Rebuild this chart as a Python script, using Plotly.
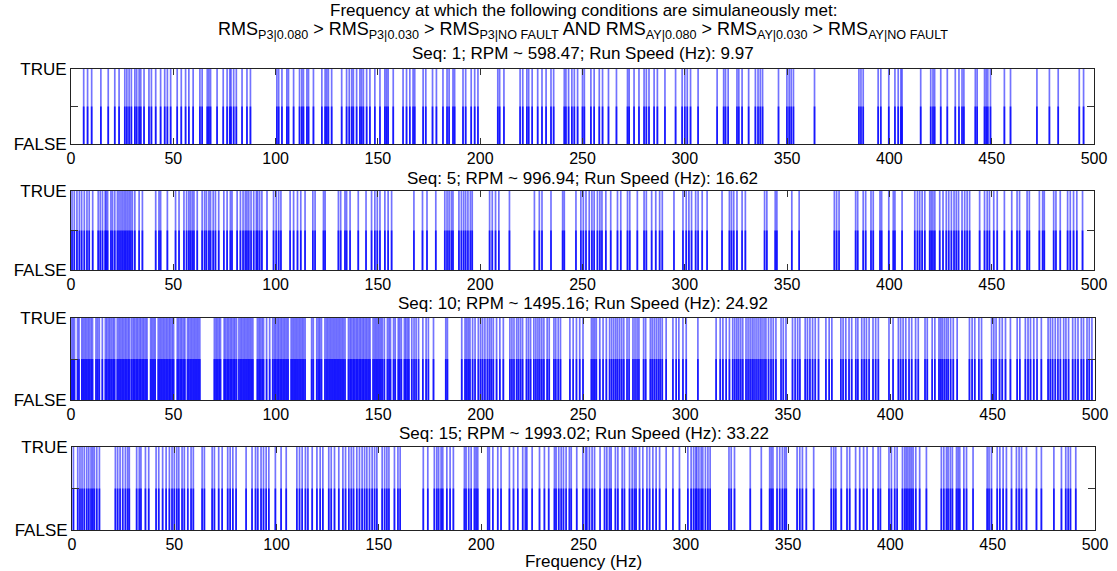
import plotly.graph_objects as go

# ---------------- data ----------------
freq_ticks = [0, 50, 100, 150, 200, 250, 300, 350, 400, 450, 500]
state_tickvals = [0, 1]
state_ticktext = ["FALSE", "TRUE"]
state_mid_tick = [0.5]

seq_titles = [
    "Seq: 1; RPM ~ 598.47; Run Speed (Hz): 9.97",
    "Seq: 5; RPM ~ 996.94; Run Speed (Hz): 16.62",
    "Seq: 10; RPM ~ 1495.16; Run Speed (Hz): 24.92",
    "Seq: 15; RPM ~ 1993.02; Run Speed (Hz): 33.22",
]

# frequencies (Hz) where the condition is TRUE
seq1_true = [6.2, 8.1, 10.1, 14.6, 18.2, 21.4, 23.5, 26.3, 27.3, 28.4, 29.5, 31.2, 32.1, 33.3, 34.1, 35.7,
             38.1, 39.3, 41.4, 43.8, 45.8, 47.1, 48.7, 51.9, 53.9, 56.0, 57.6, 59.7, 63.0, 64.1, 66.6, 67.4,
             68.2, 71.4, 74.4, 76.3, 77.6, 78.2, 79.5, 80.8, 83.6, 86.0, 87.7, 100.6, 101.5, 103.1, 105.5,
             106.3, 108.8, 111.7, 112.8, 113.6, 115.3, 116.1, 118.5, 122.6, 124.2, 125.0, 125.8, 127.4,
             132.3, 134.7, 136.0, 137.2, 138.0, 139.6, 141.2, 142.0, 142.9, 144.5, 146.1, 148.5, 151.0,
             153.4, 154.2, 155.0, 157.5, 162.3, 164.0, 165.6, 167.2, 168.0, 172.1, 173.4, 176.7, 178.6,
             181.8, 183.8, 184.8, 186.7, 187.5, 191.6, 192.9, 195.6, 197.3, 198.9, 208.6, 209.5, 211.6,
             219.5, 220.8, 222.8, 223.7, 225.4, 228.1, 230.2, 232.2, 234.6, 235.9, 241.1, 241.9, 243.2,
             244.8, 246.0, 247.6, 250.0, 250.9, 254.1, 255.7, 258.2, 259.8, 262.7, 266.6, 272.0, 272.8,
             275.2, 277.6, 280.1, 281.2, 282.5, 285.0, 286.6, 290.3, 295.5, 298.7, 300.0, 301.2, 302.8,
             306.5, 315.8, 319.0, 319.9, 321.2, 325.5, 326.4, 328.0, 331.2, 334.5, 335.8, 336.9, 338.0,
             345.8, 349.9, 351.0, 352.0, 353.1, 363.4, 385.1, 386.1, 387.2, 394.5, 395.8, 399.7, 402.7,
             404.3, 405.6, 406.2, 415.3, 420.2, 421.3, 422.1, 425.1, 428.3, 432.2, 434.0, 435.5, 436.4,
             442.0, 442.9, 446.5, 447.3, 448.1, 449.4, 456.2, 459.2, 472.1, 478.2, 482.5, 492.8, 494.9]

seq5_true = [0.5, 1.6, 2.9, 4.1, 5.2, 6.5, 7.8, 8.9, 10.6, 13.3, 14.3, 15.4, 16.7, 17.2, 17.9, 19.5, 20.3,
             21.4, 22.7, 23.5, 24.4, 25.2, 26.0, 26.8, 27.6, 28.4, 29.2, 30.0, 31.2, 33.3, 34.9, 41.4, 43.0,
             43.8, 47.1, 51.1, 52.8, 55.2, 56.5, 57.6, 58.4, 59.3, 60.1, 61.7, 64.1, 65.3, 66.2, 67.4, 68.2,
             69.5, 70.6, 72.2, 74.7, 76.3, 77.9, 78.7, 81.2, 82.8, 84.1, 85.2, 86.0, 86.9, 88.0, 89.3, 90.6,
             91.2, 92.2, 93.3, 95.8, 99.0, 100.3, 101.5, 102.6, 107.1, 108.8, 110.7, 112.3, 114.4, 118.2,
             119.3, 123.4, 124.2, 130.7, 131.8, 133.9, 134.7, 136.4, 140.4, 144.2, 146.9, 148.5, 149.7,
             151.0, 153.4, 155.0, 156.7, 167.6, 171.8, 174.0, 178.3, 182.7, 183.8, 184.8, 185.9, 186.7,
             189.6, 190.8, 191.9, 192.9, 194.0, 195.2, 196.1, 204.6, 205.9, 207.5, 209.1, 214.3, 226.5,
             228.9, 230.2, 234.6, 240.3, 241.1, 246.8, 249.2, 250.4, 251.7, 253.3, 254.6, 255.7, 257.3,
             258.5, 259.5, 261.4, 263.8, 267.1, 268.7, 272.0, 273.1, 276.8, 280.1, 281.2, 283.8, 285.8,
             287.7, 289.0, 294.7, 299.1, 300.7, 302.0, 303.3, 305.3, 306.5, 308.5, 310.9, 318.2, 321.8,
             322.8, 323.9, 325.5, 328.0, 329.6, 339.0, 340.1, 344.2, 345.0, 352.3, 355.9, 373.1, 374.2,
             375.4, 383.5, 384.5, 387.2, 388.4, 391.0, 392.1, 395.4, 396.2, 399.7, 401.9, 402.7, 406.2,
             412.4, 413.7, 414.8, 416.0, 417.3, 419.7, 420.5, 421.3, 422.2, 424.6, 426.2, 427.8, 429.0,
             430.3, 431.6, 432.7, 433.8, 435.5, 436.8, 438.0, 439.2, 444.1, 446.5, 447.8, 448.9, 451.0,
             452.7, 456.2, 459.8, 462.4, 463.6, 467.3, 468.4, 473.3, 474.9, 475.7, 480.3, 481.4, 483.5,
             487.1, 488.4, 490.0, 491.6, 494.4]

seq10_true = [0.3, 1.0, 1.7, 3.2, 3.9, 5.3, 6.0, 6.8, 7.5, 8.3, 9.0, 9.8, 10.5, 12.2, 13.0, 13.8, 15.3,
              16.8, 17.5, 18.3, 19.0, 19.8, 20.6, 21.3, 22.6, 23.4, 24.1, 24.9, 25.6, 26.4, 27.1, 27.9,
              28.6, 29.6, 30.4, 31.1, 31.9, 32.6, 33.4, 34.1, 34.9, 35.6, 36.4, 37.1, 38.9, 39.6, 40.4,
              41.1, 42.6, 43.4, 44.1, 44.9, 45.6, 46.4, 47.1, 47.9, 48.6, 49.4, 50.1, 51.9, 52.6, 53.4,
              54.1, 54.9, 55.6, 56.9, 57.6, 58.4, 59.1, 59.9, 60.6, 61.4, 62.1, 62.9, 70.0, 70.8, 71.5,
              72.3, 73.0, 74.8, 75.5, 76.3, 77.0, 77.8, 78.5, 79.3, 80.0, 80.8, 82.0, 82.8, 83.5, 84.3,
              85.0, 85.8, 86.5, 87.3, 88.0, 88.8, 91.0, 91.8, 92.5, 93.3, 94.0, 95.5, 97.0, 98.5, 99.3,
              100.0, 100.8, 101.5, 102.3, 103.0, 103.8, 104.5, 105.3, 106.0, 107.5, 108.3, 109.0, 109.8,
              110.5, 111.3, 112.0, 112.8, 113.5, 114.3, 117.5, 118.3, 120.0, 120.8, 121.5, 122.3, 124.0,
              124.8, 125.5, 126.3, 127.0, 127.8, 128.5, 129.3, 130.0, 130.8, 131.5, 132.3, 133.0, 133.8,
              135.5, 136.3, 137.0, 137.8, 138.5, 139.3, 140.0, 140.8, 141.5, 142.3, 143.0, 143.8, 144.5,
              145.3, 146.0, 147.5, 148.3, 149.0, 149.8, 150.5, 151.3, 152.0, 153.0, 154.5, 155.3, 156.0,
              157.5, 158.3, 159.8, 160.5, 161.3, 162.8, 163.5, 164.3, 165.0, 166.4, 167.5, 168.5, 169.7,
              171.8, 173.4, 174.5, 177.0, 183.0, 183.8, 190.8, 192.4, 193.2, 194.0, 194.8, 196.1, 197.3,
              198.9, 200.0, 201.0, 202.1, 203.3, 204.3, 205.2, 206.2, 207.8, 209.4, 211.1, 214.3, 215.3,
              216.3, 217.6, 218.5, 219.5, 220.5, 222.4, 223.4, 224.4, 226.0, 227.0, 228.0, 228.9, 229.9,
              230.9, 232.5, 233.5, 235.8, 236.7, 237.9, 239.0, 243.6, 245.2, 246.8, 248.4, 250.0, 254.1,
              254.9, 255.7, 256.5, 258.2, 259.8, 261.4, 263.0, 264.0, 265.0, 266.0, 266.9, 267.9, 268.9,
              269.9, 271.5, 272.5, 274.4, 275.4, 276.4, 277.3, 279.6, 280.6, 282.9, 283.8, 284.8, 285.8,
              286.8, 287.7, 288.7, 290.6, 293.9, 295.5, 296.8, 298.8, 300.4, 306.1, 315.0, 317.0, 318.3,
              319.9, 321.5, 323.1, 324.1, 325.1, 326.0, 327.0, 328.0, 329.6, 330.6, 331.6, 332.6, 333.5,
              334.5, 335.5, 336.5, 337.4, 338.4, 339.3, 340.6, 341.8, 342.9, 344.2, 346.7, 347.8, 349.1,
              352.3, 353.6, 354.8, 355.9, 358.5, 359.6, 360.8, 362.1, 363.4, 365.0, 368.6, 370.2, 371.5,
              375.9, 377.0, 378.3, 379.9, 381.2, 383.2, 384.2, 386.1, 387.3, 388.4, 389.7, 391.6, 392.9,
              394.2, 399.4, 401.4, 404.0, 405.1, 406.3, 407.6, 409.2, 410.5, 412.4, 413.7, 417.0, 418.1,
              420.5, 421.8, 423.8, 424.6, 425.4, 426.4, 427.4, 428.3, 429.5, 430.8, 432.7, 438.7, 440.0,
              441.3, 443.3, 444.6, 449.5, 450.6, 451.7, 453.4, 454.7, 456.3, 458.7, 462.0, 463.3, 466.0,
              467.3, 468.5, 470.1, 471.7, 473.8, 477.1, 478.2, 479.3, 480.6, 481.9, 483.1, 484.7, 485.8,
              487.1, 489.1, 490.4, 491.7, 493.3, 494.4, 496.1, 497.2, 498.5]

seq15_true = [0.7, 2.8, 3.9, 4.9, 6.0, 7.2, 8.2, 9.3, 10.1, 10.9, 12.1, 13.4, 21.2, 22.3, 23.5, 24.8, 26.1,
              27.2, 28.0, 31.6, 32.9, 33.7, 35.9, 37.5, 41.1, 42.4, 44.3, 46.0, 47.6, 48.9, 50.0, 51.2,
              52.2, 53.8, 54.9, 56.6, 58.2, 59.3, 63.6, 64.7, 68.5, 69.6, 71.7, 73.4, 76.1, 77.3, 78.6,
              80.2, 85.1, 88.0, 89.7, 90.8, 92.4, 93.6, 94.9, 96.2, 99.4, 102.2, 104.7, 109.9, 111.2,
              112.5, 114.1, 115.3, 117.4, 119.7, 121.3, 122.6, 125.5, 126.7, 128.3, 130.4, 132.4, 133.7,
              135.3, 136.5, 137.6, 139.2, 140.5, 141.8, 143.0, 144.1, 145.4, 146.7, 147.9, 149.0, 151.6,
              152.8, 153.9, 154.9, 157.6, 159.3, 160.4, 171.7, 173.9, 177.1, 178.3, 179.2, 180.4, 181.2,
              183.2, 184.8, 186.4, 191.8, 192.6, 193.9, 195.1, 196.7, 197.5, 198.3, 203.2, 204.0, 205.7,
              208.1, 209.7, 213.8, 215.8, 217.9, 220.3, 221.6, 222.3, 224.9, 228.5, 230.9, 233.0, 235.8,
              236.6, 237.9, 239.1, 240.2, 241.5, 243.1, 244.0, 246.7, 249.7, 251.0, 251.6, 252.9, 254.2,
              255.4, 258.1, 260.3, 261.4, 262.7, 263.5, 265.6, 266.8, 268.9, 270.0, 272.5, 273.8, 274.9,
              275.7, 277.4, 279.0, 281.0, 282.3, 283.9, 285.5, 287.2, 290.4, 293.7, 296.9, 301.0, 302.6,
              303.8, 304.8, 305.4, 306.4, 307.5, 308.3, 309.6, 310.8, 311.9, 321.1, 322.2, 323.8, 331.5,
              336.9, 341.0, 341.8, 342.6, 344.6, 345.9, 347.2, 348.3, 349.1, 354.4, 355.7, 357.0, 358.9,
              362.5, 371.1, 372.3, 373.3, 376.0, 378.8, 380.1, 383.0, 385.0, 386.9, 388.6, 391.5, 394.0,
              395.1, 399.3, 400.5, 402.1, 403.3, 405.9, 407.0, 407.8, 408.6, 409.5, 410.3, 411.1, 412.4,
              414.3, 417.6, 424.9, 426.1, 427.4, 428.2, 429.3, 430.3, 432.3, 433.1, 433.9, 435.9, 437.2,
              440.4, 447.3, 448.2, 449.4, 452.2, 453.5, 455.1, 456.7, 459.2, 461.6, 462.9, 464.1, 466.5,
              471.4, 473.8, 479.9, 483.6, 485.7, 486.9, 488.0, 490.6]

series = [seq1_true, seq5_true, seq10_true, seq15_true]

# ---------------- layout geometry (pixels) ----------------
W, H = 1117, 571
panels = [(69, 144, 71, 1094), (191, 270, 71, 1094), (318, 400, 71, 1095), (447, 530, 72, 1095)]
title_y = [53, 178, 303, 433]
FONT = "Liberation Sans, Arial, sans-serif"
TICK_SIZE = 16

fig = go.Figure()
layout = dict(width=W, height=H, margin=dict(l=0, r=0, t=0, b=0),
              paper_bgcolor="white", plot_bgcolor="white", showlegend=False,
              font=dict(family=FONT, size=TICK_SIZE, color="black"))
annotations = []

for i, (freqs, (top, bot, left, right)) in enumerate(zip(series, panels)):
    sfx = "" if i == 0 else str(i + 1)
    xs, ys, ys_half = [], [], []
    for f in freqs:
        xs += [f, f, None]
        ys += [0, 1, None]
        ys_half += [0, 0.5, None]
    fig.add_trace(go.Scatter(x=xs, y=ys, mode="lines", xaxis="x" + sfx, yaxis="y" + sfx,
                             line=dict(color="rgba(0,0,255,0.55)", width=1.7), hoverinfo="skip"))
    fig.add_trace(go.Scatter(x=xs, y=ys_half, mode="lines", xaxis="x" + sfx, yaxis="y" + sfx,
                             line=dict(color="rgba(0,0,255,0.8)", width=1.7), hoverinfo="skip"))
    layout["xaxis" + sfx] = dict(
        domain=[left / W, right / W], anchor="y" + sfx, range=[0, 500],
        tickvals=freq_ticks, ticktext=[str(v) for v in freq_ticks],
        ticks="inside", ticklen=6, tickcolor="#333", showline=True, linecolor="#222",
        linewidth=1, mirror="allticks", showgrid=False, zeroline=False, automargin=False,
        tickfont=dict(size=TICK_SIZE, family=FONT), fixedrange=True)
    layout["yaxis" + sfx] = dict(
        domain=[1 - bot / H, 1 - top / H], anchor="x" + sfx, range=[0, 1],
        tickvals=state_tickvals, ticktext=state_ticktext,
        ticks="inside", ticklen=7, tickcolor="#333", showline=True, linecolor="#222",
        linewidth=1, mirror="allticks", showgrid=False, zeroline=False, automargin=False,
        minor=dict(tickvals=state_mid_tick, ticks="inside", ticklen=7, tickcolor="#333",
                   showgrid=False),
        tickfont=dict(size=17, family=FONT), fixedrange=True)
    annotations.append(dict(text=seq_titles[i], x=(left + right) / 2 / W, y=1 - title_y[i] / H,
                            xref="paper", yref="paper", xanchor="center", yanchor="middle",
                            showarrow=False, font=dict(size=17, family=FONT)))

layout["xaxis4"]["title"] = dict(text="Frequency (Hz)", font=dict(size=17, family=FONT), standoff=0)

annotations.append(dict(text="Frequency at which the following conditions are simulaneously met:",
                        x=583 / W, y=1 - 10 / H, xref="paper", yref="paper",
                        xanchor="center", yanchor="middle", showarrow=False,
                        font=dict(size=17, family=FONT)))
annotations.append(dict(
    text="RMS<sub>P3|0.080</sub> > RMS<sub>P3|0.030</sub> > RMS<sub>P3|NO FAULT</sub> AND "
         "RMS<sub>AY|0.080</sub> > RMS<sub>AY|0.030</sub> > RMS<sub>AY|NO FAULT</sub>",
    x=583 / W, y=1 - 30 / H, xref="paper", yref="paper",
    xanchor="center", yanchor="middle", showarrow=False,
    font=dict(size=18, family=FONT)))

layout["annotations"] = annotations
fig.update_layout(**layout)
fig.write_html("out.html")
